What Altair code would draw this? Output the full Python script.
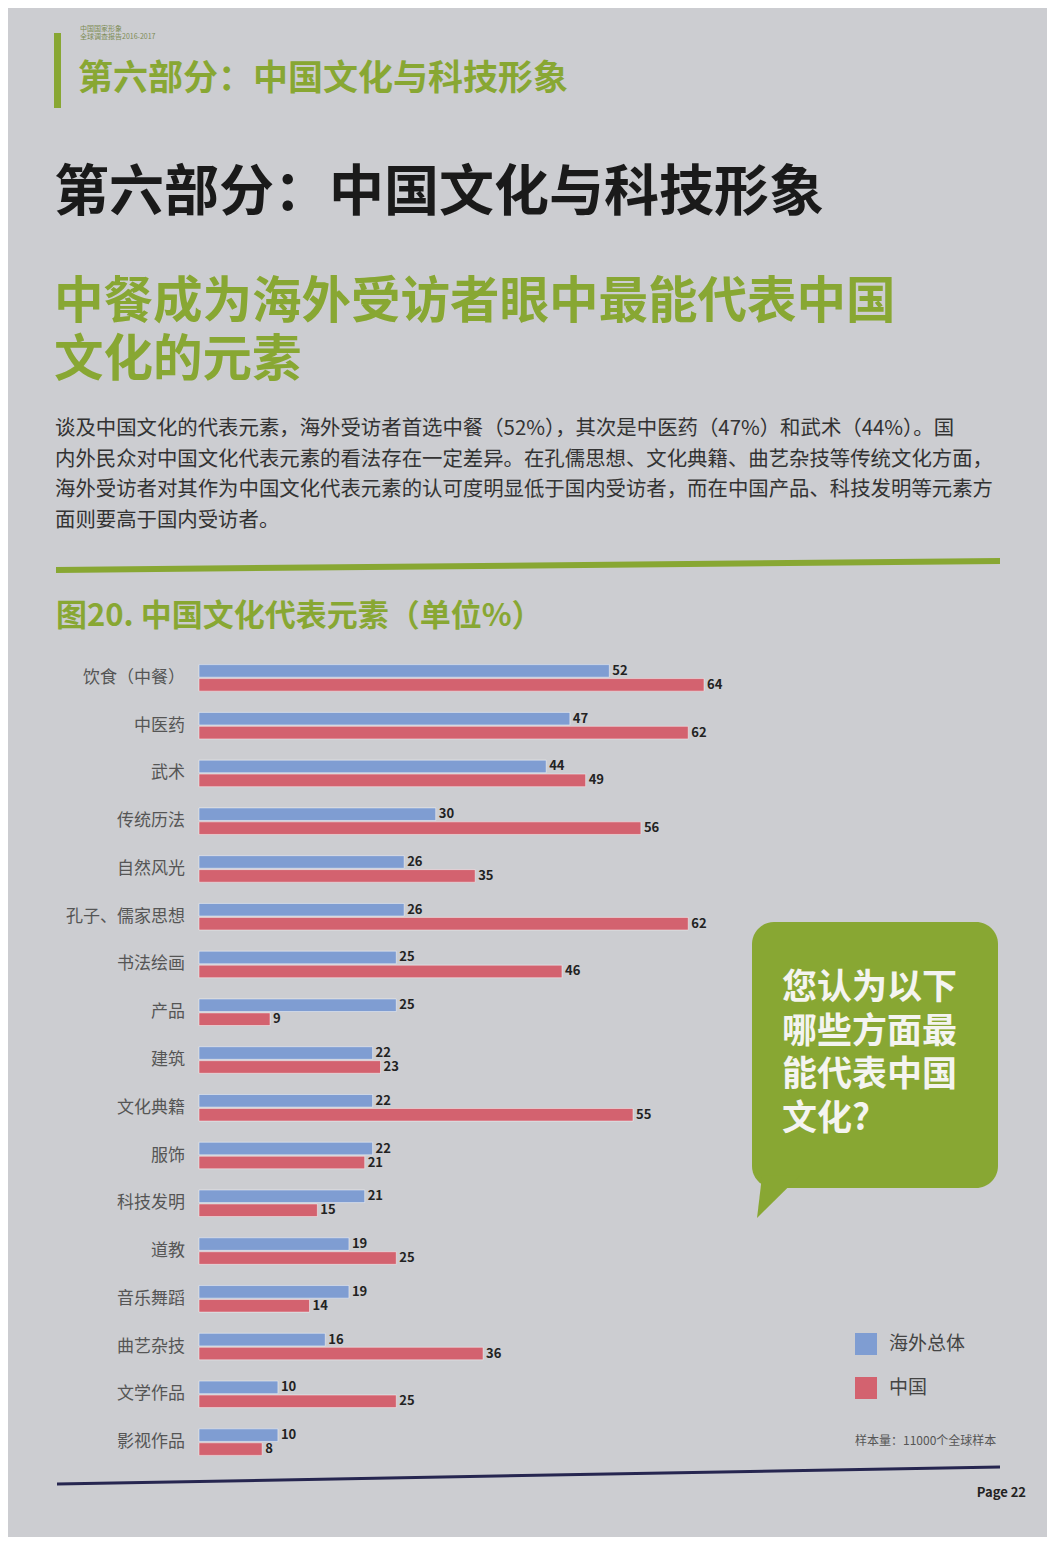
import altair as alt
import pandas as pd

# ---------------- data ----------------
categories = ["饮食（中餐）", "中医药", "武术", "传统历法", "自然风光", "孔子、儒家思想",
              "书法绘画", "产品", "建筑", "文化典籍", "服饰", "科技发明", "道教",
              "音乐舞蹈", "曲艺杂技", "文学作品", "影视作品"]
overseas = [52, 47, 44, 30, 26, 26, 25, 25, 22, 22, 22, 21, 19, 19, 16, 10, 10]
china = [64, 62, 49, 56, 35, 62, 46, 9, 23, 55, 21, 15, 25, 14, 36, 25, 8]
series = ["海外总体", "中国"]

header_small = "中国国家形象\n全球调查报告2016-2017"
section_green = "第六部分：中国文化与科技形象"
section_black = "第六部分：中国文化与科技形象"
headline_lines = ["中餐成为海外受访者眼中最能代表中国", "文化的元素"]
paragraph = ("谈及中国文化的代表元素，海外受访者首选中餐（52%），其次是中医药（47%）和武术（44%）。国\n"
             "内外民众对中国文化代表元素的看法存在一定差异。在孔儒思想、文化典籍、曲艺杂技等传统文化方面，\n"
             "海外受访者对其作为中国文化代表元素的认可度明显低于国内受访者，而在中国产品、科技发明等元素方\n"
             "面则要高于国内受访者。")
fig_title = "图20. 中国文化代表元素（单位%）"
callout_lines = ["您认为以下", "哪些方面最", "能代表中国", "文化?"]
sample_note = "样本量：11000个全球样本"
page_no = "Page 22"

rows = []
for c, a, b in zip(categories, overseas, china):
    rows.append({"cat": c, "series": series[0], "value": a})
    rows.append({"cat": c, "series": series[1], "value": b})
df = pd.DataFrame(rows)
cat_df = pd.DataFrame({"cat": categories})

FONT = "Noto Sans CJK SC"
GREEN = "#88a733"
BLUE = "#7f9dd2"
RED = "#d3626f"

def P(v):  # page pixel -> chart pixel (page has 8px margin)
    return v - 8

def txt(s):
    return alt.Chart(pd.DataFrame({"t": [s]}))

xs = alt.Scale(domain=[0, 64], range=[P(199), P(704)])
ys = alt.Scale(domain=categories, range=[P(654), P(1466)], paddingInner=0, paddingOuter=0)

bars = alt.Chart(df).mark_bar(stroke="#ffffff", strokeOpacity=0.45, strokeWidth=1).encode(
    y=alt.Y("cat:N", scale=ys, sort=categories, axis=None),
    yOffset=alt.YOffset("series:N", sort=series,
                        scale=alt.Scale(domain=series, paddingInner=0.1, paddingOuter=0.76)),
    x=alt.X("value:Q", scale=xs, axis=None),
    color=alt.Color("series:N", scale=alt.Scale(domain=series, range=[BLUE, RED]),
                    legend=alt.Legend(title=None, orient="none", legendX=P(855), legendY=P(1333),
                                      symbolType="square", symbolSize=484, symbolStrokeWidth=0,
                                      rowPadding=22, labelOffset=12, labelFontSize=19,
                                      labelColor="#444444", labelFont=FONT, symbolOpacity=1)),
)

value_labels = alt.Chart(df).mark_text(align="left", baseline="middle", dx=3, font=FONT,
                                       fontSize=13, fontWeight="bold", color="#222222").encode(
    y=alt.Y("cat:N", scale=ys, sort=categories),
    yOffset=alt.YOffset("series:N", sort=series),
    x=alt.X("value:Q", scale=xs),
    text="value:Q",
)

cat_labels = alt.Chart(cat_df).mark_text(align="right", baseline="middle", font=FONT,
                                         fontSize=17, color="#555555").encode(
    y=alt.Y("cat:N", scale=ys, sort=categories),
    x=alt.value(P(185)),
    text="cat:N",
)

# decorative page elements
green_vbar = txt("").mark_rect(color=GREEN).encode(
    x=alt.value(P(54)), x2=alt.value(P(61)), y=alt.value(P(33)), y2=alt.value(P(108)))
small_hdr = txt(header_small).mark_text(align="left", baseline="middle", font=FONT, fontSize=7,
                                        lineBreak="\n", lineHeight=8, color="#7d8c55").encode(
    x=alt.value(P(80)), y=alt.value(P(29)), text="t:N")
sec_green = txt(section_green).mark_text(align="left", baseline="middle", font=FONT, fontSize=35,
                                         fontWeight="bold", color=GREEN).encode(
    x=alt.value(P(78)), y=alt.value(P(79)), text="t:N")
sec_black = txt(section_black).mark_text(align="left", baseline="middle", font=FONT, fontSize=55,
                                         fontWeight="bold", color="#1a1a1a").encode(
    x=alt.value(P(54)), y=alt.value(P(193)), text="t:N")

head_layers = []
for i, line in enumerate(headline_lines):
    head_layers.append(
        txt(line).mark_text(align="left", baseline="middle", font=FONT, fontSize=49.5,
                            fontWeight="bold", color=GREEN).encode(
            x=alt.value(P(54)), y=alt.value(P(303 + 58 * i)), text="t:N"))

para = txt(paragraph).mark_text(align="left", baseline="middle", font=FONT, fontSize=20.4,
                                color="#333333", lineBreak="\n", lineHeight=30.5).encode(
    x=alt.value(P(55)), y=alt.value(P(429)), text="t:N")
green_hline = txt("").mark_rule(color=GREEN, strokeWidth=6).encode(
    x=alt.value(P(56)), x2=alt.value(P(1000)), y=alt.value(P(570)), y2=alt.value(P(561)))
ftitle = txt(fig_title).mark_text(align="left", baseline="middle", font=FONT, fontSize=31,
                                  fontWeight="bold", color=GREEN).encode(
    x=alt.value(P(56)), y=alt.value(P(617)), text="t:N")

bubble = txt("").mark_rect(color=GREEN, cornerRadius=22).encode(
    x=alt.value(P(752)), x2=alt.value(P(998)), y=alt.value(P(922)), y2=alt.value(P(1188)))
tail = txt("").mark_point(shape="M-0.58,-0.9 L1,-0.9 L-0.79,0.875 Z", size=2304, filled=True,
                          opacity=1, color=GREEN).encode(
    x=alt.value(P(776)), y=alt.value(P(1197)))
bubble_layers = []
for i, line in enumerate(callout_lines):
    bubble_layers.append(
        txt(line).mark_text(align="left", baseline="middle", font=FONT, fontSize=35,
                            fontWeight="bold", color="#f4f4f0").encode(
            x=alt.value(P(782)), y=alt.value(P(988 + 43.5 * i)), text="t:N"))

note = txt(sample_note).mark_text(align="left", baseline="middle", font=FONT, fontSize=12,
                                  color="#555555").encode(
    x=alt.value(P(855)), y=alt.value(P(1441)), text="t:N")
bottom_line = txt("").mark_rule(color="#262650", strokeWidth=3).encode(
    x=alt.value(P(57)), x2=alt.value(P(1000)), y=alt.value(P(1484)), y2=alt.value(P(1467)))
page = txt(page_no).mark_text(align="right", baseline="middle", font=FONT, fontSize=13,
                              fontWeight="bold", color="#222222").encode(
    x=alt.value(P(1026)), y=alt.value(P(1493)), text="t:N")

chart = alt.layer(
    green_vbar, small_hdr, sec_green, sec_black, *head_layers, para, green_hline, ftitle,
    bubble, tail, *bubble_layers,
    bars, value_labels, cat_labels,
    note, bottom_line, page,
).properties(
    width=1039, height=1529,
    autosize=alt.AutoSizeParams(type="none"),
    padding=0,
    background="#cccdd1",
).configure_view(stroke=None)

chart.save("out.html", embed_options={"renderer": "svg", "actions": False})
